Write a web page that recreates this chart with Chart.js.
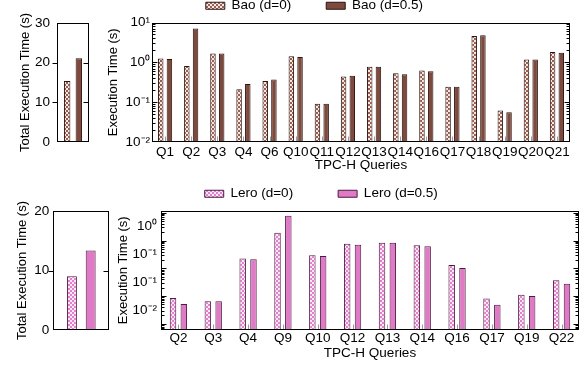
<!DOCTYPE html>
<html><head><meta charset="utf-8">
<script src="https://cdn.jsdelivr.net/npm/chart.js@4.4.1/dist/chart.umd.min.js"></script>
<style>
html,body{margin:0;padding:0;background:#fff;}
#wrap{position:relative;width:586px;height:366px;overflow:hidden;background:#fff;}
canvas{position:absolute;left:0;top:0;}
</style></head><body>
<div id="wrap">
<canvas id="tl" width="586" height="366"></canvas>
<canvas id="tr" width="586" height="366"></canvas>
<canvas id="bl" width="586" height="366"></canvas>
<canvas id="br" width="586" height="366"></canvas>
</div>
<script>
// ---------- data ----------
const seriesLabelsBao = ['Bao (d=0)', 'Bao (d=0.5)'];
const seriesLabelsLero = ['Lero (d=0)', 'Lero (d=0.5)'];

const baoTotals = [15.4, 21.1];
const baoQueries = ['Q1','Q2','Q3','Q4','Q6','Q10','Q11','Q12','Q13','Q14','Q16','Q17','Q18','Q19','Q20','Q21'];
const baoD0  = [1.25, 0.81, 1.67, 0.21, 0.34, 1.43, 0.091, 0.44, 0.78, 0.53, 0.62, 0.245, 4.6, 0.062, 1.18, 1.83];
const baoD05 = [1.22, 7.1, 1.67, 0.285, 0.37, 1.37, 0.091, 0.46, 0.78, 0.50, 0.60, 0.245, 4.8, 0.056, 1.18, 1.73];
const baoTickValues = [0.01, 0.1, 1, 10];
const baoTickLabels = ['10\u207B\u00B2', '10\u207B\u00B9', '10\u2070', '10\u00B9'];

const leroTotals = [9.05, 13.35];
const leroQueries = ['Q2','Q3','Q4','Q9','Q10','Q12','Q13','Q14','Q16','Q17','Q19','Q22'];
const leroD0  = [0.0085, 0.0065, 0.224, 1.90, 0.294, 0.76, 0.83, 0.68, 0.133, 0.0081, 0.0112, 0.037];
const leroD05 = [0.0052, 0.0065, 0.211, 7.8, 0.28, 0.70, 0.83, 0.62, 0.103, 0.0049, 0.0101, 0.028];
const leroTickValues = [0.00316, 0.0316, 0.316, 3.16];
const leroTickLabels = ['10\u207B\u00B2', '10\u207B\u00B9', '10\u207B\u00B9', '10\u2070'];

const totalTickLabelsBao = [0, 10, 20, 30];
const totalTickLabelsLero = [0, 10, 20];

// ---------- style ----------
const FONT = "'Liberation Sans', Arial, Helvetica, sans-serif";
Chart.defaults.font.family = FONT;
Chart.defaults.font.size = 13;
Chart.defaults.color = '#000';

function checker(fg, bg) {
  const c = document.createElement('canvas'); c.width = 4; c.height = 4;
  const x = c.getContext('2d');
  x.fillStyle = bg; x.fillRect(0, 0, 4, 4);
  x.fillStyle = fg; x.fillRect(0, 0, 2, 2); x.fillRect(2, 2, 2, 2);
  return x.createPattern(c, 'repeat');
}
const baoPat = checker('#9a5e50', '#f4e8e4');
const baoFill = '#7f4a3e';
const baoEdge = '#2a1410';
const leroPat = checker('#e37fcb', '#fbe8f6');
const leroFill = '#e079c6';
const leroEdge = '#4a1d40';

const framePlugin = {
  id: 'frame',
  afterDatasetsDraw(chart, args, o) {
    const ctx = chart.ctx, a = chart.chartArea, ys = chart.scales.y;
    const L = Math.round(a.left) + 0.5, R = Math.round(a.right) - 0.5;
    const T = Math.round(a.top) + 0.5, B = Math.round(a.bottom) - 0.5;
    ctx.save();
    ctx.lineWidth = 1;
    if (o.catTicks) {
      const xs = chart.scales.x;
      ctx.strokeStyle = '#9c9c9c';
      ctx.beginPath();
      xs.ticks.forEach((t, i) => {
        const x = Math.round(xs.getPixelForTick(i)) + 0.5;
        ctx.moveTo(x, B); ctx.lineTo(x, B - 5);
      });
      ctx.stroke();
    }
    ctx.strokeStyle = '#000';
    ctx.beginPath();
    const tick = (v, len) => {
      const y = Math.round(ys.getPixelForValue(v)) + 0.5;
      if (y < a.top - 0.1 || y > a.bottom + 0.1) return;
      if (o.leftOut) { ctx.moveTo(L, y); ctx.lineTo(L - len, y); }
      else { ctx.moveTo(L, y); ctx.lineTo(L + len, y); }
      ctx.moveTo(R, y); ctx.lineTo(R - len, y);
    };
    if (o.log) {
      const k0 = Math.floor(Math.log10(ys.min)), k1 = Math.ceil(Math.log10(ys.max));
      for (let k = k0; k <= k1; k++) {
        const d = Math.pow(10, k);
        tick(d, 5);
        for (let m = 2; m <= 9; m++) tick(m * d, 3);
      }
    } else {
      ys.ticks.forEach(t => { if (t.value > ys.min && t.value < ys.max) tick(t.value, 5); });
    }
    ctx.stroke();
    ctx.strokeRect(L, T, R - L, B - T);
    ctx.restore();
  }
};

function barDs(label, data, bg, edge, cp, bp) {
  return { label, data, backgroundColor: bg, borderColor: edge, borderWidth: 1,
           categoryPercentage: cp, barPercentage: bp, inflateAmount: 0, borderSkipped: false };
}

function totalChart(id, labels, totals, pat, fill, edge, max, ticks, lay) {
  return new Chart(document.getElementById(id), {
    type: 'bar',
    data: { labels: [''], datasets: [
      barDs(labels[0], [totals[0]], pat, edge, lay.cp, lay.bp),
      barDs(labels[1], [totals[1]], fill, edge, lay.cp, lay.bp)
    ]},
    options: {
      responsive: false, animation: false, events: [],
      layout: { padding: lay.padding },
      plugins: { legend: { display: false }, tooltip: { enabled: false }, frame: { leftOut: true } },
      scales: {
        x: { display: false },
        y: {
          min: 0, max: max,
          afterBuildTicks: s => { s.ticks = ticks.map(v => ({ value: v })); },
          ticks: { padding: lay.tickPad, callback: v => String(v), font: { size: 13.5 } },
          grid: { display: false, drawTicks: false }, border: { display: false },
          title: { display: true, text: 'Total Execution Time (s)', padding: { top: lay.titlePad, bottom: 0 } },
          afterFit: s => { s.width = lay.yWidth; }
        }
      }
    },
    plugins: [framePlugin]
  });
}

function queryChart(id, labels, cats, d0, d05, pat, fill, edge, min, max, tickVals, tickLabels, lay) {
  return new Chart(document.getElementById(id), {
    type: 'bar',
    data: { labels: cats, datasets: [
      barDs(labels[0], d0, pat, edge, lay.cp, lay.bp),
      barDs(labels[1], d05, fill, edge, lay.cp, lay.bp)
    ]},
    options: {
      responsive: false, animation: false, events: [],
      layout: { padding: lay.padding },
      plugins: {
        legend: { display: true, position: 'top',
          labels: { boxWidth: 19, boxHeight: 7, padding: lay.legendPad, font: { size: 13.5 }, color: '#000' } },
        tooltip: { enabled: false },
        frame: { log: true, catTicks: true }
      },
      scales: {
        x: {
          grid: { display: false, drawTicks: false }, border: { display: false },
          ticks: { autoSkip: false, maxRotation: 0, minRotation: 0, padding: lay.xTickPad, font: { size: 13.5 } },
          title: { display: true, text: 'TPC-H Queries', padding: { top: 0, bottom: 0 }, font: { size: 13.5 } },
          afterFit: s => { s.height = lay.xHeight; }
        },
        y: {
          type: 'logarithmic', min: min, max: max,
          afterBuildTicks: s => { s.ticks = tickVals.map(v => ({ value: v })); },
          ticks: { padding: lay.tickPad, callback: (v, i) => tickLabels[i], font: { size: 13.5 } },
          grid: { display: false, drawTicks: false }, border: { display: false },
          title: { display: true, text: 'Execution Time (s)', padding: { top: lay.titlePad, bottom: 0 } },
          afterFit: s => { s.width = lay.yWidth; }
        }
      }
    },
    plugins: [framePlugin]
  });
}

totalChart('tl', seriesLabelsBao, baoTotals, baoPat, baoFill, baoEdge, 30, totalTickLabelsBao,
  { cp: 0.73, bp: 0.55, padding: { left: 0, right: 497, top: 23, bottom: 224 }, tickPad: 7, titlePad: 17.2, yWidth: 57 });

totalChart('bl', seriesLabelsLero, leroTotals, leroPat, leroFill, leroEdge, 20, totalTickLabelsLero,
  { cp: 0.67, bp: 0.53, padding: { left: 0, right: 476.7, top: 211, bottom: 36 }, tickPad: 4, titlePad: 14.7, yWidth: 53.3 });

queryChart('tr', seriesLabelsBao, baoQueries, baoD0, baoD05, baoPat, baoFill, baoEdge, 0.01, 10, baoTickValues, baoTickLabels,
  { cp: 0.667, bp: 0.63, padding: { left: 58.7, right: 16, top: -36, bottom: 192.2 }, legendPad: 35,
    tickPad: 2, titlePad: 47, yWidth: 93.3, xTickPad: 2, xHeight: 31.8 });

queryChart('br', seriesLabelsLero, leroQueries, leroD0, leroD05, leroPat, leroFill, leroEdge, 0.000607, 12.1, leroTickValues, leroTickLabels,
  { cp: 0.62, bp: 0.6, padding: { left: 63.5, right: 7, top: 142, bottom: 4.2 }, legendPad: 45,
    tickPad: 4, titlePad: 52.2, yWidth: 97.5, xTickPad: 0, xHeight: 31.8 });
</script>
</body></html>
